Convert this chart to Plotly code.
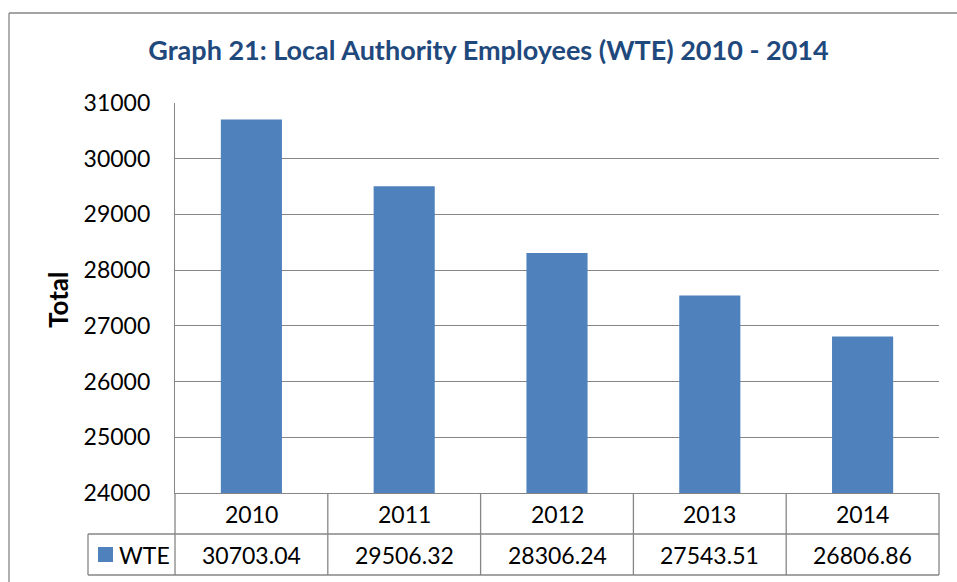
import plotly.graph_objects as go

years = ["2010", "2011", "2012", "2013", "2014"]
wte = [30703.04, 29506.32, 28306.24, 27543.51, 26806.86]
series_name = "WTE"
title_text = "Graph 21: Local Authority Employees (WTE) 2010 - 2014"
y_title = "Total"
y_ticks = [24000, 25000, 26000, 27000, 28000, 29000, 30000, 31000]

W, H = 957, 582
L, R, T, B = 175, 939, 103, 493
FONT = "Lato, 'Open Sans', sans-serif"
GRID = "#868686"
BAR = "#4F81BD"
TITLE_C = "#1F497D"


def px(xpix):
    return (xpix - L) / (R - L)


def py(ypix):
    return (B - ypix) / (B - T)


idx = list(range(len(years)))

fig = go.Figure()
fig.add_trace(go.Bar(x=idx, y=wte, name=series_name, marker=dict(color=BAR, line=dict(width=0)),
                     width=0.4, showlegend=False, hoverinfo="x+y"))

shapes = []
ann = []
line = dict(color=GRID, width=1.3)

# outer chart frame (left + top edges)
shapes.append(dict(type="line", xref="paper", yref="paper", x0=px(9), x1=px(960), y0=py(13), y1=py(13), line=line))
shapes.append(dict(type="line", xref="paper", yref="paper", x0=px(9), x1=px(9), y0=py(13), y1=py(590), line=line))

# data table horizontal lines
row1_bot = 534
row2_bot = 575
shapes.append(dict(type="line", xref="paper", yref="paper", x0=px(88), x1=px(R), y0=py(row1_bot), y1=py(row1_bot), line=line))
shapes.append(dict(type="line", xref="paper", yref="paper", x0=px(88), x1=px(R), y0=py(row2_bot), y1=py(row2_bot), line=line))
# legend-cell left edge
shapes.append(dict(type="line", xref="paper", yref="paper", x0=px(88), x1=px(88), y0=py(row1_bot), y1=py(row2_bot), line=line))
# column separators
n = len(years)
for k in range(n + 1):
    shapes.append(dict(type="line", xref="paper", yref="paper", x0=k / n, x1=k / n,
                       y0=0, y1=py(row2_bot), line=line))

# legend swatch
shapes.append(dict(type="rect", xref="paper", yref="paper", x0=px(98), x1=px(113), y0=py(547), y1=py(562),
                   fillcolor=BAR, line=dict(width=0)))
ann.append(dict(text=series_name, xref="paper", yref="paper", x=px(117), y=py(555), xanchor="left", yanchor="middle",
                showarrow=False, font=dict(family=FONT, size=23, color="black")))

for i, (yr, v) in enumerate(zip(years, wte)):
    ann.append(dict(text=yr, xref="x", yref="paper", x=i, y=py(514), xanchor="center", yanchor="middle",
                    showarrow=False, font=dict(family=FONT, size=23, color="black")))
    ann.append(dict(text=f"{v:.2f}", xref="x", yref="paper", x=i, y=py(555), xanchor="center", yanchor="middle",
                    showarrow=False, font=dict(family=FONT, size=23, color="black")))

# y axis title
ann.append(dict(text=f"<b>{y_title}</b>", xref="paper", yref="paper", x=px(58), y=py(300), xanchor="center",
                yanchor="middle", textangle=-90, showarrow=False, font=dict(family=FONT, size=26, color="black")))

fig.update_layout(
    width=W, height=H,
    margin=dict(l=L, r=W - R, t=T, b=H - B, autoexpand=False),
    paper_bgcolor="white", plot_bgcolor="white",
    title=dict(text=f"<b>{title_text}</b>", xref="paper", x=px(488.5), xanchor="center",
               yref="container", y=1 - 51 / H, yanchor="middle",
               font=dict(family=FONT, size=27, color=TITLE_C)),
    bargap=0.6,
    xaxis=dict(range=[-0.5, n - 0.5], showticklabels=False, ticks="", showgrid=False, zeroline=False,
               showline=True, linecolor=GRID, linewidth=1.3, fixedrange=True),
    yaxis=dict(range=[24000, 31000], tickvals=y_ticks, ticktext=[str(t) for t in y_ticks],
               ticks="", showgrid=True, gridcolor=GRID, gridwidth=1.3, zeroline=False,
               showline=True, linecolor=GRID, linewidth=1.3, ticklabelstandoff=19,
               tickfont=dict(family=FONT, size=23, color="black"), fixedrange=True),
    shapes=shapes,
    annotations=ann,
    showlegend=False,
)

fig.write_html("out.html", config={"displayModeBar": False},
               post_script="document.body.style.margin='0px';document.body.style.overflow='hidden';")
